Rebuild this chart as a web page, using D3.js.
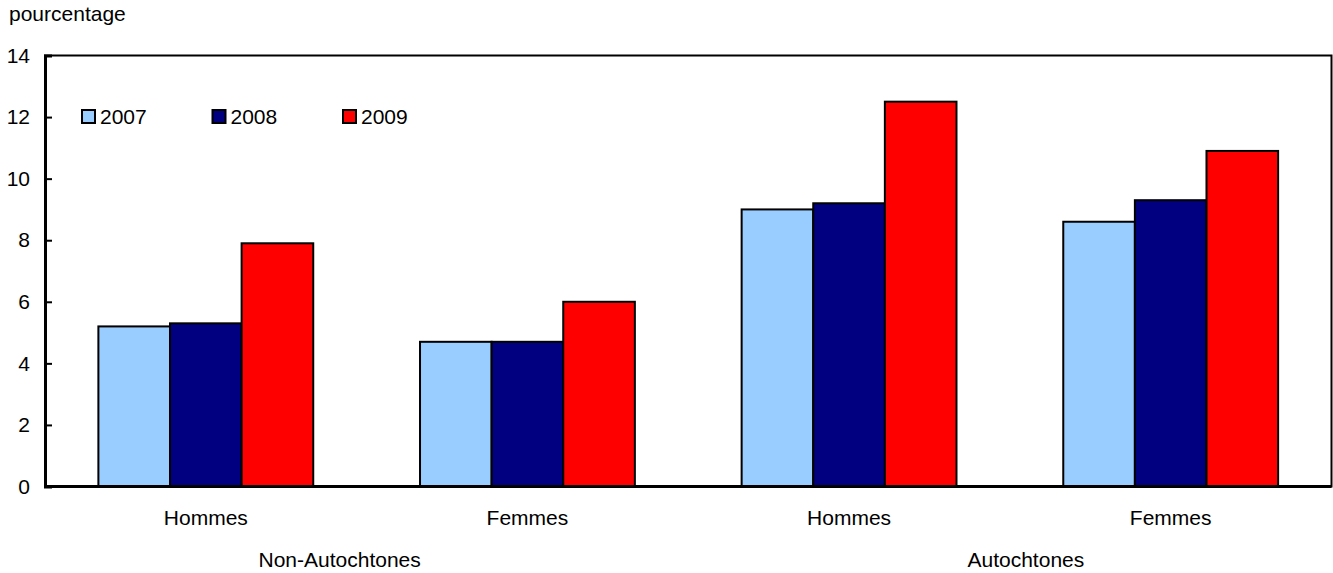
<!DOCTYPE html>
<html>
<head>
<meta charset="utf-8">
<style>
body {
	margin: 0;
	background: #fff;
}
text {
	font-family: "Liberation Sans", Arial, Helvetica, sans-serif;
	font-size: 21px;
	fill: #000;
}
</style>
</head>
<body>

<svg id="chart" width="1333" height="573"></svg>

<script src="https://d3js.org/d3.v7.min.js"></script>
<script>

// data
let categories = ['Hommes', 'Femmes', 'Hommes', 'Femmes'];
let groups = ['Non-Autochtones', 'Autochtones'];
let series = ['2007', '2008', '2009'];
let values2007 = [5.2, 4.7, 9.0, 8.6];
let values2008 = [5.3, 4.7, 9.2, 9.3];
let values2009 = [7.9, 6.0, 12.5, 10.9];
let yTicks = [0, 2, 4, 6, 8, 10, 12, 14];

let colors = ['#99ccff', '#000080', '#ff0000'];

let width = 1333, height = 573;
let margin = {top: 55.5, right: 1.5, bottom: 86.5, left: 45};

let svg = d3.select('#chart');

let x0 = d3.scaleBand()
	.domain(d3.range(categories.length))
	.range([margin.left, width - margin.right])
	.paddingInner(0.332)
	.paddingOuter(0.166);

let x1 = d3.scaleBand()
	.domain(series)
	.range([0, x0.bandwidth()]);

let y = d3.scaleLinear()
	.domain([0, 14])
	.range([height - margin.bottom, margin.top]);

let allValues = [values2007, values2008, values2009];
let rows = [];
for (let i = 0; i < categories.length; i++) {
	series.forEach(function(s, j) {
		rows.push({cat: i, year: s, value: allValues[j][i], color: colors[j]});
	});
}

// bars
svg.append('g')
	.selectAll('rect')
	.data(rows)
	.join('rect')
	.attr('x', function(d) { return x0(d.cat) + x1(d.year); })
	.attr('y', function(d) { return y(d.value); })
	.attr('width', x1.bandwidth())
	.attr('height', function(d) { return y(0) - y(d.value); })
	.attr('fill', function(d) { return d.color; })
	.attr('stroke', '#000')
	.attr('stroke-width', 2);

// frame
svg.append('rect')
	.attr('x', margin.left)
	.attr('y', margin.top)
	.attr('width', width - margin.right - margin.left)
	.attr('height', y(0) - margin.top)
	.attr('fill', 'none')
	.attr('stroke', '#000')
	.attr('stroke-width', 2);

// y axis
let yAxis = svg.append('g')
	.attr('transform', 'translate(' + margin.left + ',0)')
	.call(d3.axisLeft(y).tickValues(yTicks).tickSize(-7).tickPadding(15));
yAxis.select('.domain')
	.attr('stroke', '#000')
	.attr('stroke-width', 3);
yAxis.selectAll('.tick line').attr('stroke-width', 2);
yAxis.selectAll('.tick text')
	.style('font-size', '21px')
	.style('font-family', '"Liberation Sans", Arial, sans-serif');

// bottom axis line
svg.append('line')
	.attr('x1', margin.left)
	.attr('x2', width - margin.right)
	.attr('y1', y(0))
	.attr('y2', y(0))
	.attr('stroke', '#000')
	.attr('stroke-width', 3);

// category labels
svg.append('g')
	.selectAll('text')
	.data(categories)
	.join('text')
	.attr('x', function(d, i) { return x0(i) + x0.bandwidth() / 2; })
	.attr('y', y(0) + 38)
	.attr('text-anchor', 'middle')
	.text(function(d) { return d; });

// group labels (each group spans two categories)
let groupShift = [-27, 16];
svg.append('g')
	.selectAll('text')
	.data(groups)
	.join('text')
	.attr('x', function(d, i) {
		let a = x0(i * 2) + x0.bandwidth() / 2;
		let b = x0(i * 2 + 1) + x0.bandwidth() / 2;
		return (a + b) / 2 + groupShift[i];
	})
	.attr('y', y(0) + 80)
	.attr('text-anchor', 'middle')
	.text(function(d) { return d; });

// y title
svg.append('text')
	.attr('x', 9)
	.attr('y', 21)
	.text('pourcentage');

// legend
let legend = svg.append('g')
	.selectAll('g')
	.data(series)
	.join('g')
	.attr('transform', function(d, i) { return 'translate(' + (82 + i * 130.5) + ',' + 110 + ')'; });

legend.append('rect')
	.attr('width', 13)
	.attr('height', 13)
	.attr('fill', function(d, i) { return colors[i]; })
	.attr('stroke', '#000')
	.attr('stroke-width', 2);

legend.append('text')
	.attr('x', 18)
	.attr('y', 14)
	.text(function(d) { return d; });

</script>
</body>
</html>
